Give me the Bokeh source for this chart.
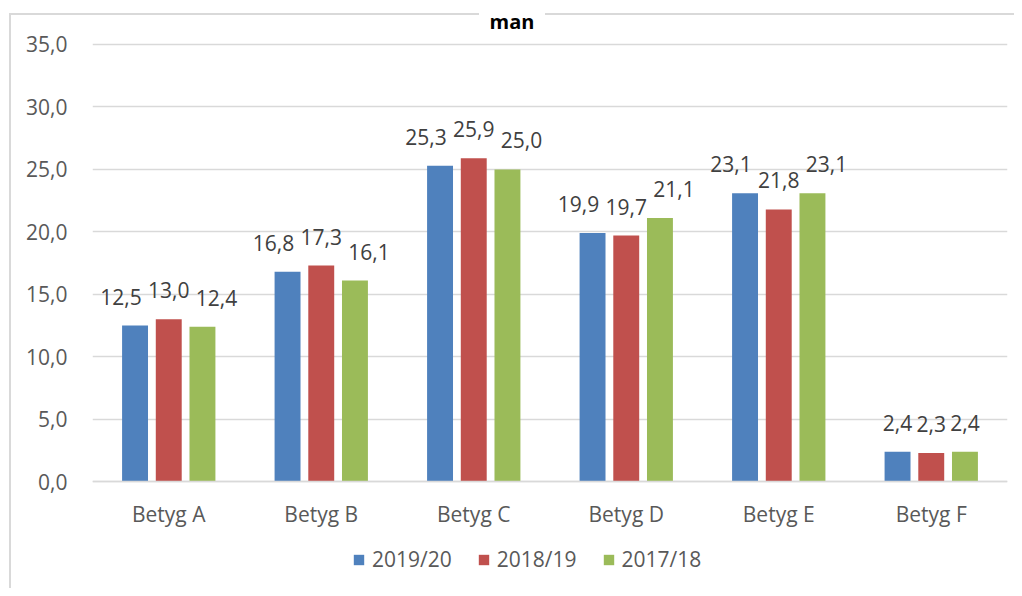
from bokeh.plotting import figure
from bokeh.models import (Range1d, FactorRange, CustomJSTickFormatter, Legend, LegendItem,
                          ColumnDataSource, Title)
from bokeh.transform import dodge
from bokeh.core.properties import value
from bokeh.embed import file_html
from bokeh.resources import INLINE

categories = ["Betyg A", "Betyg B", "Betyg C", "Betyg D", "Betyg E", "Betyg F"]
series_names = ["2019/20", "2018/19", "2017/18"]
v2019 = [12.5, 16.8, 25.3, 19.9, 23.1, 2.4]
v2018 = [13.0, 17.3, 25.9, 19.7, 21.8, 2.3]
v2017 = [12.4, 16.1, 25.0, 21.1, 23.1, 2.4]
series_values = [v2019, v2018, v2017]
y_ticks = [0, 5, 10, 15, 20, 25, 30, 35]
colors = ["#4F81BD", "#C0504D", "#9BBB59"]
offsets = [-0.221, 0.0, 0.221]
label_shift = [-14, 0, 14]

FONT = "Open Sans"
W, H = 1014, 588
# value 0 sits at y=481 px, 35 at y=43 px; frame spans y 39..588 px
px_per_unit = (481 - 43) / 35
y_bottom = -(588 - 481) / px_per_unit
y_top = 35 + 4 / px_per_unit

p = figure(x_range=FactorRange(*categories), y_range=Range1d(y_bottom, y_top),
           width=W, height=H, output_backend="svg", toolbar_location=None,
           min_border_left=92, min_border_right=W - 1007, min_border_top=39,
           min_border_bottom=0)

# chart-area border (light grey), interrupted under the title
LINE = "linear-gradient(#d9d9d9,#d9d9d9)"
p.border_fill_alpha = 0
p.styles = {"background": (f"{LINE} 9px 13px / 2px 100% no-repeat, "
                           f"{LINE} 9px 13px / 470px 2px no-repeat, "
                           f"{LINE} 545px 13px / 100% 2px no-repeat, #ffffff")}

p.title = Title(text="man", align="left", offset=397, standoff=11,
                text_font=FONT, text_font_size="20px", text_font_style="bold",
                text_color="#000000")

p.outline_line_color = None
p.xgrid.grid_line_color = None
p.ygrid.grid_line_color = "#d9d9d9"
p.ygrid.grid_line_width = 1.5
p.ygrid.ticker = y_ticks

p.yaxis.ticker = y_ticks
p.yaxis.formatter = CustomJSTickFormatter(code="return tick.toFixed(1).replace('.', ',');")
p.yaxis.axis_line_color = None
p.yaxis.major_tick_line_color = None
p.yaxis.minor_tick_line_color = None
p.yaxis.major_label_standoff = 19
p.yaxis.major_label_text_font = FONT
p.yaxis.major_label_text_font_size = "21px"
p.yaxis.major_label_text_color = "#595959"

p.xaxis.fixed_location = 0
p.xaxis.axis_line_color = "#d9d9d9"
p.xaxis.axis_line_width = 1.5
p.xaxis.major_tick_line_color = None
p.xaxis.minor_tick_line_color = None
p.xaxis.major_label_standoff = 12
p.xaxis.major_label_text_font = FONT
p.xaxis.major_label_text_font_size = "21px"
p.xaxis.major_label_text_color = "#595959"

items = []
for name, vals, col, off, sh in zip(series_names, series_values, colors, offsets, label_shift):
    labels = [f"{v:.1f}".replace(".", ",") for v in vals]
    dx = [sh if len(t) > 3 else 0 for t in labels]
    src = ColumnDataSource(dict(x=categories, y=vals, t=labels, dx=dx))
    r = p.vbar(x=dodge("x", off, range=p.x_range), top="y", width=0.17, source=src,
               fill_color=col, line_color=None)
    p.text(x=dodge("x", off, range=p.x_range), y="y", text="t", source=src,
           x_offset="dx", y_offset=-29, text_align="center", text_baseline="alphabetic",
           text_font=value(FONT), text_font_size="21px", text_color="#404040")
    items.append(LegendItem(label=name, renderers=[r]))

legend = Legend(items=items, orientation="horizontal", location=(260, 15),
                border_line_color=None, background_fill_alpha=0,
                glyph_width=13, glyph_height=13, label_standoff=7, spacing=25,
                margin=0, padding=0,
                label_text_font=FONT, label_text_font_size="21px",
                label_text_color="#595959")
p.add_layout(legend, "center")

open("out.html", "w").write(file_html(p, INLINE))
